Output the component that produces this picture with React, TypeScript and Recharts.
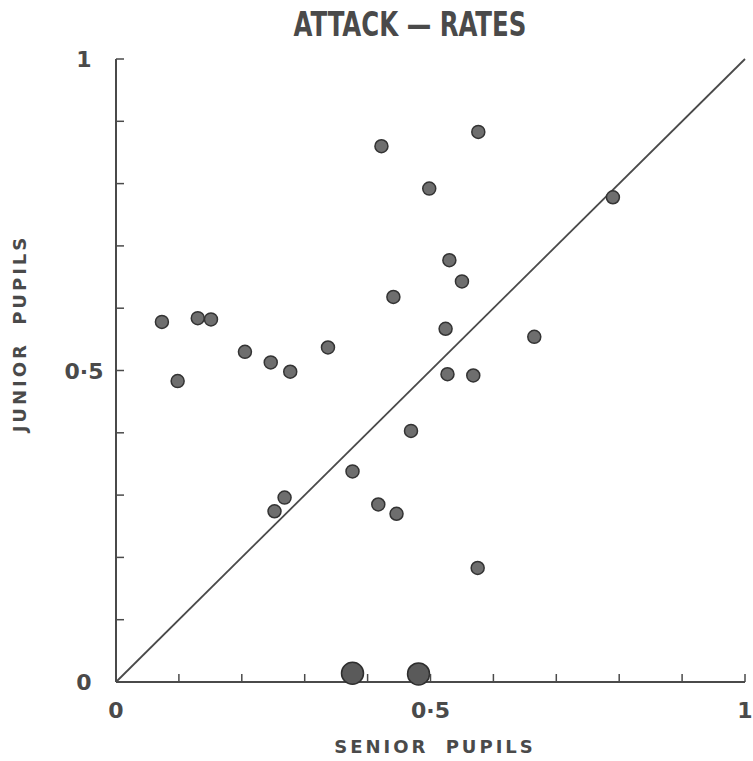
import React from 'react';
import { ScatterChart, Scatter, XAxis, YAxis, ReferenceLine } from 'recharts';

// attack rates, senior pupils (x) vs junior pupils (y)
const seniorRates = [
  0.073, 0.098, 0.13, 0.151, 0.205, 0.246, 0.277, 0.337, 0.252, 0.268,
  0.376, 0.417, 0.446, 0.469, 0.422, 0.498, 0.576, 0.441, 0.53, 0.55,
  0.524, 0.527, 0.568, 0.575, 0.665, 0.79,
];
const juniorRates = [
  0.578, 0.483, 0.584, 0.582, 0.53, 0.513, 0.498, 0.537, 0.274, 0.296,
  0.338, 0.285, 0.27, 0.403, 0.86, 0.792, 0.883, 0.618, 0.677, 0.643,
  0.567, 0.494, 0.492, 0.183, 0.554, 0.778,
];
// the two large dots sitting on the x axis
const bigSenior = [0.376, 0.481];
const bigJunior = [0.014, 0.013];

const tickValues = [0, 0.1, 0.2, 0.3, 0.4, 0.5, 0.6, 0.7, 0.8, 0.9, 1];
const tickLabels = ['0', '', '', '', '', '0·5', '', '', '', '', '1'];

const INK = '#4a4a4a';
const LABEL_FONT = '"DejaVu Sans", Verdana, sans-serif';

const points = seniorRates.map((s, i) => ({ x: s, y: juniorRates[i] }));
const bigPoints = bigSenior.map((s, i) => ({ x: s, y: bigJunior[i] }));

const XTick = (props: any) => {
  const { x, y, index } = props;
  const label = tickLabels[index];
  return (
    <g>
      {index > 0 && <line x1={x} y1={y} x2={x} y2={y - 8} stroke={INK} strokeWidth={1.5} />}
      {label && (
        <text x={x} y={y + 36} textAnchor="middle" fill={INK} fontSize={22} fontWeight="bold" fontFamily={LABEL_FONT}>
          {label}
        </text>
      )}
    </g>
  );
};

const YTick = (props: any) => {
  const { x, y, index } = props;
  const label = tickLabels[index];
  return (
    <g>
      {index > 0 && <line x1={x} y1={y} x2={x + 8} y2={y} stroke={INK} strokeWidth={1.5} />}
      {label && (
        <text x={x - 32} y={y + 8} textAnchor="middle" fill={INK} fontSize={22} fontWeight="bold" fontFamily={LABEL_FONT}>
          {label}
        </text>
      )}
    </g>
  );
};

const Dot = (props: any) => (
  <circle cx={props.cx} cy={props.cy} r={6.5} fill="#6e6e6e" stroke="#333" strokeWidth={1.5} />
);
const BigDot = (props: any) => (
  <circle cx={props.cx} cy={props.cy} r={11} fill="#5a5a5a" stroke="#2e2e2e" strokeWidth={1.5} />
);

export default function App() {
  return (
    <div style={{ position: 'absolute', left: 0, top: 0, width: 753, height: 761, background: '#fff' }}>
      <div
        style={{
          position: 'absolute', left: 410, top: 4, width: 0, height: 0,
        }}
      >
        <div
          style={{
            position: 'absolute', left: -200, width: 400, top: 0, textAlign: 'center',
            transform: 'scaleX(0.8)',
            fontFamily: '"Liberation Sans Narrow", "DejaVu Sans Condensed", sans-serif',
            fontWeight: 'bold', fontSize: 34, color: INK, whiteSpace: 'nowrap',
          }}
        >
          ATTACK — RATES
        </div>
      </div>
      <div
        style={{
          position: 'absolute', left: 0, width: 870, top: 736, textAlign: 'center',
          fontFamily: LABEL_FONT, fontWeight: 'bold', fontSize: 18, letterSpacing: 3, wordSpacing: 8, color: INK,
        }}
      >
        SENIOR PUPILS
      </div>
      <div
        style={{
          position: 'absolute', left: 19, top: 335, width: 0, height: 0,
        }}
      >
        <div
          style={{
            position: 'absolute', left: -150, top: -12, width: 300, textAlign: 'center',
            transform: 'rotate(-90deg)',
            fontFamily: LABEL_FONT, fontWeight: 'bold', fontSize: 18, letterSpacing: 3, wordSpacing: 8, color: INK,
          }}
        >
          JUNIOR PUPILS
        </div>
      </div>
      <ScatterChart width={753} height={761} margin={{ top: 59, right: 8, bottom: 78, left: 115 }}>
        <XAxis
          type="number"
          dataKey="x"
          domain={[0, 1]}
          ticks={tickValues}
          height={1}
          tickSize={0}
          tickMargin={0}
          tick={<XTick />}
          tickLine={false}
          axisLine={{ stroke: INK, strokeWidth: 2 }}
          interval={0}
        />
        <YAxis
          type="number"
          dataKey="y"
          domain={[0, 1]}
          ticks={tickValues}
          width={1}
          tickSize={0}
          tickMargin={0}
          tick={<YTick />}
          tickLine={false}
          axisLine={{ stroke: INK, strokeWidth: 2 }}
          interval={0}
        />
        <ReferenceLine
          segment={[{ x: 0, y: 0 }, { x: 1, y: 1 }]}
          stroke={INK}
          strokeWidth={1.8}
        />
        <Scatter data={points} shape={<Dot />} isAnimationActive={false} />
        <Scatter data={bigPoints} shape={<BigDot />} isAnimationActive={false} />
      </ScatterChart>
    </div>
  );
}
